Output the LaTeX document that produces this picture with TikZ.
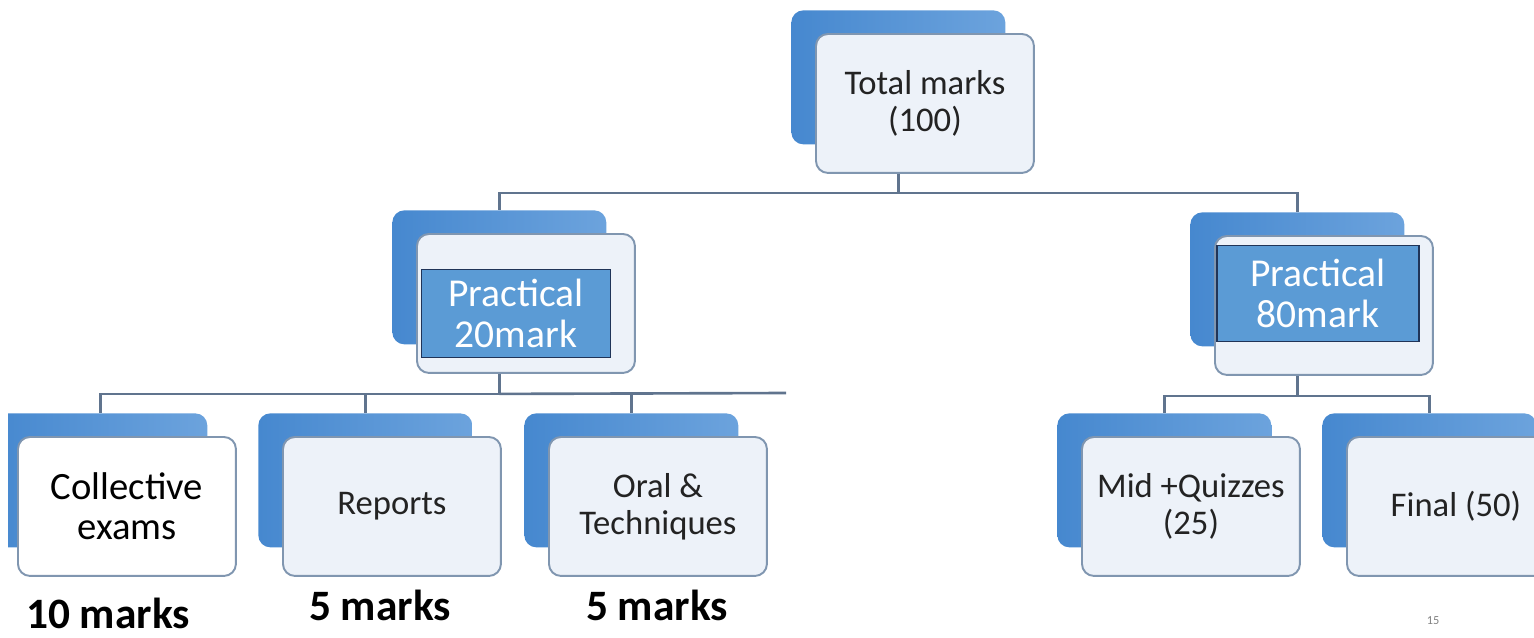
\documentclass[tikz,border=0pt]{standalone}
\usepackage{fontspec}
\setmainfont{Carlito}
\usepackage{tikz}
\usetikzlibrary{positioning,calc}
\definecolor{backdark}{RGB}{70,136,207}
\definecolor{backlight}{RGB}{108,163,221}
\definecolor{frontfill}{RGB}{237,242,249}
\definecolor{frontedge}{RGB}{128,150,176}
\definecolor{innerfill}{RGB}{91,155,213}
\definecolor{inneredge}{RGB}{32,52,88}
\definecolor{linkgray}{RGB}{96,116,142}
\definecolor{textgray}{RGB}{35,35,35}

\begin{document}
\begin{tikzpicture}[
  x=0.02cm,y=-0.02cm,
  backbox/.style={rectangle,rounded corners=0.24cm,left color=backdark,right color=backlight,
                  minimum width=4.28cm,minimum height=2.68cm,anchor=north west},
  card/.style={rectangle,draw=frontedge,line width=1.1pt,rounded corners=0.24cm,fill=frontfill,
               minimum width=4.36cm,minimum height=2.78cm,anchor=north west,align=center,
               text=textgray,font=\fontsize{19.7}{21}\selectfont},
  tag/.style={rectangle,draw=inneredge,line width=1pt,fill=innerfill,align=center,text=white,
              font=\fontsize{22.5}{23}\selectfont},
  marks/.style={font=\bfseries\fontsize{24.7}{28}\selectfont},
  link/.style={draw=linkgray,line width=1.5pt}
]
\useasboundingbox (0,0) rectangle (1534,637);
\begin{scope}
\clip (8,0) rectangle (1534,637);
% back layers
\node[backbox] (totalbk) at (791,10) {};
\node[backbox] (prac20bk) at (392,210) {};
\node[backbox] (prac80bk) at (1190,212) {};
\node[backbox] (collbk) at (-7,413) {};
\node[backbox] (repbk) at (258,413) {};
\node[backbox] (oralbk) at (524,413) {};
\node[backbox] (midbk) at (1057,413) {};
\node[backbox] (finalbk) at (1322,413) {};
% front cards
\node[card] (total) at ([shift={(24,23)}]totalbk.north west) {Total marks\\(100)};
\node[card] (prac20) at ([shift={(24,23)}]prac20bk.north west) {};
\node[card] (prac80) at ([shift={(24,23)}]prac80bk.north west) {};
\node[card,fill=white,text=black,font=\fontsize{22}{23}\selectfont] (coll) at ([shift={(24,23)}]collbk.north west) {Collective\\exams};
\node[card] (rep) at ([shift={(24,23)}]repbk.north west) {Reports};
\node[card] (oral) at ([shift={(24,23)}]oralbk.north west) {Oral \&\\Techniques};
\node[card] (mid) at ([shift={(24,23)}]midbk.north west) {Mid +Quizzes\\(25)};
\node[card] (final) at ([shift={(24,23)}]finalbk.north west) {Final (50)};
% blue labels
\node[tag,minimum width=3.78cm,minimum height=1.76cm] (prac20lbl) at ([shift={(-10,10)}]prac20.center) {Practical\\20mark};
\node[tag,minimum width=4.04cm,minimum height=1.92cm] (prac80lbl) at ([shift={(-6,-12)}]prac80.center) {Practical\\80mark};
% connectors
\draw[link] (total.south -| totalbk) -- ++(0,19) coordinate (jtop);
\draw[link] (jtop) -| (prac20bk.north);
\draw[link] (jtop) -| (prac80bk.north);
\draw[link] (prac20.south -| prac20bk) -- ++(0,20) coordinate (jleft);
\draw[link] (jleft) -| (collbk.north);
\draw[link] (jleft) -| (repbk.north);
\draw[link] (jleft) -| (oralbk.north);
\draw[link] (jleft) -- (786,393);
\draw[link] (prac80.south -| prac80bk) -- ++(0,20) coordinate (jright);
\draw[link] (jright) -| (midbk.north);
\draw[link] (jright) -| (finalbk.north);
\end{scope}
% marks under the cards
\node[marks] (collmk) at (108,613) {10 marks};
\node[marks] (repmk) at (380,605) {5 marks};
\node[marks] (oralmk) at (657,605) {5 marks};
\node[text=gray,font=\fontsize{7}{8}\selectfont] (pageno) at (1433,621) {15};
\end{tikzpicture}
\end{document}
